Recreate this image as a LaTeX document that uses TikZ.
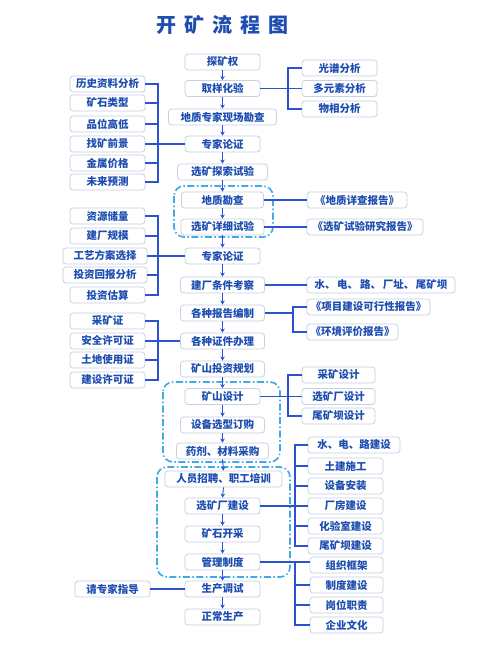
\documentclass[tikz,border=0pt]{standalone}
\usepackage{fontspec}
\newfontfamily\cjk{Noto Sans CJK SC}
\usetikzlibrary{arrows.meta}
\definecolor{txtblue}{HTML}{1D4DB0}
\definecolor{lineblue}{HTML}{2C52D2}
\definecolor{boxgray}{HTML}{C6D1E2}
\definecolor{dashblue}{HTML}{3FAAE6}

\begin{document}
\begin{tikzpicture}[x=1pt, y=-1pt
            , box/.style={draw=boxgray, line width=0.8pt, rounded corners=3pt, fill=white, text=txtblue,
                font=\cjk\bfseries\fontsize{10.5}{12}\selectfont, minimum width=75pt, minimum height=16pt, inner sep=1pt},
            conn/.style={lineblue, line width=1.2pt},
            arr/.style={lineblue, line width=0.9pt, -{Stealth[length=4pt,width=4.5pt]}},
            group/.style={dashblue, line width=1.7pt, rounded corners=10pt,
                dash pattern=on 7pt off 2.5pt on 1.5pt off 2.5pt}]
        \useasboundingbox[fill=white] (0,0) rectangle (500,666);
        \node[text=txtblue, font=\cjk\bfseries\fontsize{20}{24}\selectfont] (title) at (222,25)
            {开\hspace{8pt}矿\hspace{8pt}流\hspace{8pt}程\hspace{8pt}图};

        % dashed groups
        \draw[group] (174,186) rectangle (273,237);
        \draw[group] (163,382) rectangle (280,462);
        \draw[group] (157,467) rectangle (290,577);

        % main chain
        \node[box] (m1) at (222.5,62) {探矿权};
        \node[box] (m2) at (222.5,88.5) {取样化验};
        \node[box, minimum width=108pt] (m3) at (222.5,117) {地质专家现场勘查};
        \node[box] (m4) at (222.5,144) {专家论证};
        \node[box, minimum width=90pt] (m5) at (222.5,172) {选矿探索试验};
        \node[box, minimum width=82pt] (m6) at (222.5,200) {地质勘查};
        \node[box, minimum width=83pt] (m7) at (222.5,227) {选矿详细试验};
        \node[box] (m8) at (222.5,256) {专家论证};
        \node[box, minimum width=84pt] (m9) at (222.5,285) {建厂条件考察};
        \node[box, minimum width=84pt] (m10) at (222.5,313) {各种报告编制};
        \node[box, minimum width=84pt] (m11) at (222.5,341) {各种证件办理};
        \node[box, minimum width=84pt] (m12) at (222.5,369) {矿山投资规划};
        \node[box] (m13) at (222.5,396.5) {矿山设计};
        \node[box, minimum width=84pt] (m14) at (222.5,425) {设备选型订购};
        \node[box, minimum width=92pt] (m15) at (222.5,451) {药剂、材料采购};
        \node[box, minimum width=117pt] (m16) at (223.5,479) {人员招聘、职工培训};
        \node[box] (m17) at (222.5,506) {选矿厂建设};
        \node[box] (m18) at (222.5,534) {矿石开采};
        \node[box] (m19) at (222.5,562) {管理制度};
        \node[box] (m20) at (222.5,589) {生产调试};
        \node[box] (m21) at (222.5,617) {正常生产};
        \foreach \i [evaluate=\i as \j using int(\i+1)] in {1,...,20}
            \draw[arr] (m\i.south) -- (m\j.north);

        % left side
        \coordinate (bl) at (158,0);
        \node[box] (a1) at (107.5,84) {历史资料分析};
        \node[box] (a2) at (107.5,103) {矿石类型};
        \node[box] (a3) at (107.5,124) {品位高低};
        \node[box] (a4) at (107.5,144) {找矿前景};
        \node[box] (a5) at (107.5,163) {金属价格};
        \node[box] (a6) at (107.5,182) {未来预测};
        \draw[conn] (a1.east) -- (a1.east -| bl) |- (a6.east);
        \foreach \n in {2,...,5}
            \draw[conn] (a\n.east) -- (a\n.east -| bl);
        \draw[conn] (a4.east) -- (m4.west);

        \node[box] (b1) at (107.5,216) {资源储量};
        \node[box] (b2) at (107.5,236) {建厂规模};
        \node[box, minimum width=84pt] (b3) at (105,256) {工艺方案选择};
        \node[box, minimum width=84pt] (b4) at (105,275) {投资回报分析};
        \node[box] (b5) at (107.5,295) {投资估算};
        \draw[conn] (b1.east) -- (b1.east -| bl) |- (b5.east);
        \foreach \n in {2,...,4}
            \draw[conn] (b\n.east) -- (b\n.east -| bl);
        \draw[conn] (b3.east) -- (m8.west);

        \node[box] (c1) at (107.5,321) {采矿证};
        \node[box] (c2) at (107.5,341) {安全许可证};
        \node[box] (c3) at (107.5,360) {土地使用证};
        \node[box] (c4) at (107.5,380) {建设许可证};
        \draw[conn] (c1.east) -- (c1.east -| bl) |- (c4.east);
        \foreach \n in {2,3}
            \draw[conn] (c\n.east) -- (c\n.east -| bl);
        \draw[conn] (c2.east) -- (m11.west);

        \node[box] (help) at (112.5,589) {请专家指导};
        \draw[conn] (help.east) -- (m20.west);

        % right side
        \coordinate (br1) at (288,0);
        \node[box] (r1) at (339.5,68) {光谱分析};
        \node[box] (r2) at (339.5,88.5) {多元素分析};
        \node[box] (r3) at (339.5,109) {物相分析};
        \draw[conn] (r1.west) -- (r1.west -| br1) |- (r3.west);
        \draw[conn] (m2.east) -- (r2.west);

        \node[box, minimum width=100pt] (rep1) at (357,200) {《地质详查报告》};
        \node[box, minimum width=116pt] (rep2) at (365,227) {《选矿试验研究报告》};
        \draw[conn] (m6.east) -- (rep1.west);
        \draw[conn] (m7.east) -- (rep2.west);

        \node[box, minimum width=148pt] (site) at (381,285) {水、\,电、\,路、\,厂址、\,尾矿坝};
        \draw[conn] (m9.east) -- (site.west);

        \coordinate (br2) at (293,0);
        \node[box, minimum width=123pt] (rep3) at (368.5,307) {《项目建设可行性报告》};
        \node[box, minimum width=91pt] (rep4) at (352.5,332) {《环境评价报告》};
        \draw[conn] (rep3.west) -- (rep3.west -| br2) |- (rep4.west);
        \draw[conn] (m10.east) -- (m10.east -| br2);

        \node[box, minimum width=73pt] (d1) at (338.5,375) {采矿设计};
        \node[box, minimum width=73pt] (d2) at (338.5,396.5) {选矿厂设计};
        \node[box, minimum width=73pt] (d3) at (338.5,416) {尾矿坝设计};
        \draw[conn] (d1.west) -- (d1.west -| br1) |- (d3.west);
        \draw[conn] (m13.east) -- (d2.west);

        \coordinate (br3) at (295,0);
        \node[box, minimum width=92pt] (e1) at (354,445) {水、电、路建设};
        \node[box] (e2) at (345.5,466) {土建施工};
        \node[box] (e3) at (345.5,486) {设备安装};
        \node[box] (e4) at (345.5,506) {厂房建设};
        \node[box] (e5) at (345.5,526) {化验室建设};
        \node[box] (e6) at (345.5,546) {尾矿坝建设};
        \draw[conn] (e1.west) -- (e1.west -| br3) |- (e6.west);
        \foreach \n in {2,3,5}
            \draw[conn] (e\n.west) -- (e\n.west -| br3);
        \draw[conn] (m17.east) -- (e4.west);

        \node[box, minimum width=73pt] (f1) at (346.5,565) {组织框架};
        \node[box, minimum width=73pt] (f2) at (346.5,585) {制度建设};
        \node[box, minimum width=73pt] (f3) at (346.5,605) {岗位职责};
        \node[box, minimum width=73pt] (f4) at (346.5,625) {企业文化};
        \draw[conn] (m19.east) -- (m19.east -| f1.west);
        \draw[conn] (m19.east -| br3) |- (f4.west);
        \foreach \n in {2,3}
            \draw[conn] (f\n.west) -- (f\n.west -| br3);
        \end{tikzpicture}
\end{document}
